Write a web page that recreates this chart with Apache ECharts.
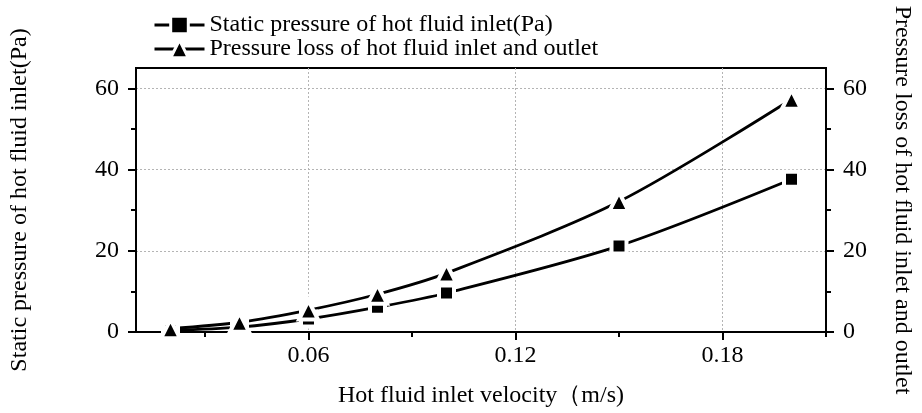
<!DOCTYPE html>
<html>
<head>
<meta charset="utf-8">
<script src="https://cdn.jsdelivr.net/npm/echarts@6/dist/echarts.min.js"></script>
<style>html,body{margin:0;padding:0;background:#fff;}#chart{width:922px;height:413px;}</style>
</head>
<body>
<div id="chart"></div>
<script>
const velocity = [0.02, 0.04, 0.06, 0.08, 0.10, 0.15, 0.20];
const staticPressure = [0.4, 1.2, 3.2, 6.1, 9.6, 21.2, 37.6];
const pressureLoss = [0.8, 2.4, 5.4, 9.3, 14.5, 32.1, 57.3];
const xMajorTicks = [0.06, 0.12, 0.18];
const xMinorTicks = [0.03, 0.09, 0.15, 0.21];
const yMajorTicks = [0, 20, 40, 60];
const yMinorTicks = [10, 30, 50];
const seriesNames = ['Static pressure of hot fluid inlet(Pa)', 'Pressure loss of hot fluid inlet and outlet'];
const xTitle = 'Hot fluid inlet velocity（m/s)';
const yLeftTitle = 'Static pressure of hot fluid inlet(Pa)';
const yRightTitle = 'Pressure loss of hot fluid inlet and outlet';

const FONT = "'Liberation Serif','Times New Roman',serif";
const FS = 24;
const chart = echarts.init(document.getElementById('chart'));

function pairs(xs, ys) { return xs.map((x, i) => [x, ys[i]]); }

const dotted = { show: true, lineStyle: { color: '#b4b4b4', type: [2, 2], width: 1 } };
const axisLine = { show: true, onZero: false, lineStyle: { color: '#000', width: 2 } };

function yMajor(pos, name, gap, rot, split) {
  return {
    type: 'value', position: pos, min: 0, max: 65,
    name: name, nameLocation: 'middle', nameGap: gap, nameRotate: rot,
    nameTextStyle: { fontFamily: FONT, fontSize: FS, color: '#000' },
    axisLine: axisLine,
    axisTick: { show: true, customValues: yMajorTicks, length: 8, lineStyle: { color: '#000', width: 2 } },
    axisLabel: { show: true, customValues: yMajorTicks, margin: 17, fontFamily: FONT, fontSize: FS, color: '#000' },
    splitLine: split ? dotted : { show: false }
  };
}
function yMinor(pos) {
  return {
    type: 'value', position: pos, min: 0, max: 65,
    axisLine: { show: false },
    axisTick: { show: true, customValues: yMinorTicks, length: 5, lineStyle: { color: '#000', width: 2 } },
    axisLabel: { show: false },
    splitLine: { show: false }
  };
}

chart.setOption({
  backgroundColor: '#fff',
  animation: false,
  grid: { left: 135, right: 89, top: 68, bottom: 81, show: true, borderColor: '#000', borderWidth: 2, backgroundColor: 'transparent' },
  legend: {
    orient: 'vertical', left: 153, top: 13, padding: 0, itemGap: 0,
    itemWidth: 50, itemHeight: 22,
    itemStyle: { borderColor: '#fff', borderWidth: 3 },
    lineStyle: { width: 3 },
    textStyle: { fontFamily: FONT, fontSize: FS, color: '#000', lineHeight: 23 },
    data: seriesNames
  },
  xAxis: [
    {
      type: 'value', position: 'bottom', min: 0.01, max: 0.21,
      name: xTitle, nameLocation: 'middle', nameGap: 52,
      nameTextStyle: { fontFamily: FONT, fontSize: FS, color: '#000' },
      axisLine: axisLine,
      axisTick: { show: true, customValues: xMajorTicks, length: 8, lineStyle: { color: '#000', width: 2 } },
      axisLabel: { show: true, customValues: xMajorTicks, margin: 12, fontFamily: FONT, fontSize: FS, color: '#000',
        formatter: v => v.toFixed(2) },
      splitLine: dotted
    },
    {
      type: 'value', position: 'bottom', min: 0.01, max: 0.21,
      axisLine: { show: false },
      axisTick: { show: true, customValues: xMinorTicks, length: 5, lineStyle: { color: '#000', width: 2 } },
      axisLabel: { show: false },
      splitLine: { show: false }
    }
  ],
  yAxis: [
    yMajor('left', yLeftTitle, 104, 90, true),
    yMinor('left'),
    yMajor('right', yRightTitle, 64, -90, false),
    yMinor('right')
  ],
  series: [
    {
      name: seriesNames[0], type: 'line', xAxisIndex: 0, yAxisIndex: 0,
      data: pairs(velocity, staticPressure),
      smooth: 0.3, symbol: 'rect', symbolSize: 15,
      lineStyle: { color: '#000', width: 2.8 },
      itemStyle: { color: '#000', borderColor: '#fff', borderWidth: 4 }
    },
    {
      name: seriesNames[1], type: 'line', xAxisIndex: 0, yAxisIndex: 2,
      data: pairs(velocity, pressureLoss),
      smooth: 0.3, symbol: 'triangle', symbolSize: 19,
      lineStyle: { color: '#000', width: 2.8 },
      itemStyle: { color: '#000', borderColor: '#fff', borderWidth: 4 }
    }
  ]
});
</script>
</body>
</html>
